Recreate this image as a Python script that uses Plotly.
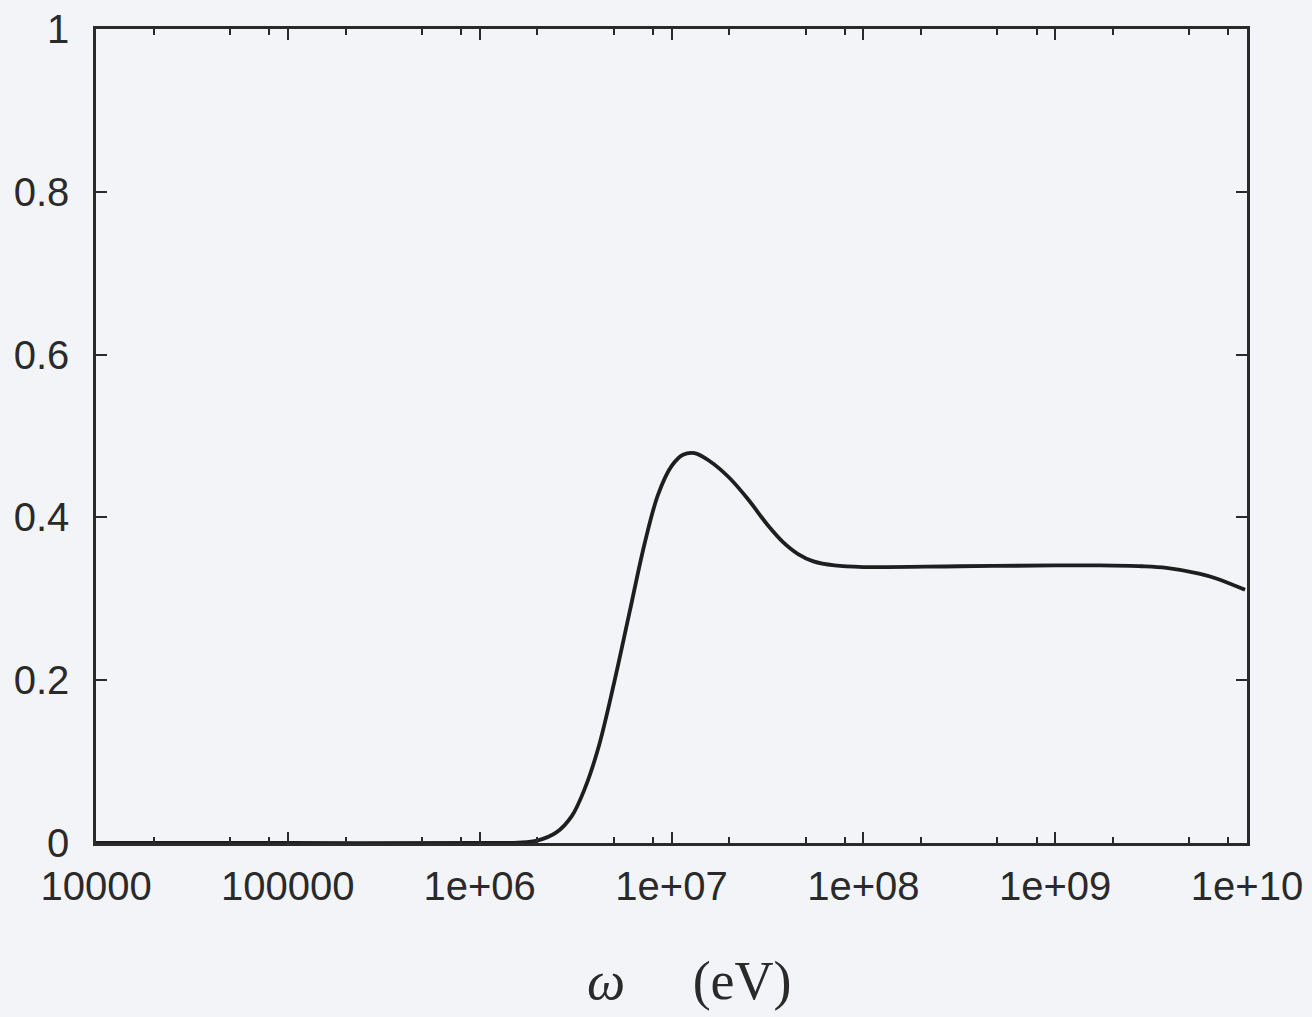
import plotly.graph_objects as go

# Data (x on log scale, in eV)
log_omega = [4.0, 5.0, 6.0, 6.2, 6.30, 6.40, 6.48, 6.55, 6.62, 6.70, 6.78, 6.86, 6.93,
             7.00, 7.06, 7.12, 7.20, 7.30, 7.40, 7.50, 7.58, 7.66, 7.74, 7.85, 8.0,
             8.5, 9.0, 9.23, 9.45, 9.58, 9.75, 9.84, 9.99]
sigma = [0.0, 0.0, 0.0, 0.0005, 0.003, 0.013, 0.033, 0.068, 0.118, 0.196, 0.282, 0.368, 0.428,
         0.463, 0.477, 0.479, 0.469, 0.449, 0.422, 0.391, 0.370, 0.355, 0.346, 0.341, 0.339,
         0.340, 0.341, 0.341, 0.340, 0.338, 0.331, 0.325, 0.311]
omega = [10 ** v for v in log_omega]

x_tickvals = [1e4, 1e5, 1e6, 1e7, 1e8, 1e9, 1e10]
x_ticktext = ["10000", "100000", "1e+06", "1e+07", "1e+08", "1e+09", "1e+10"]
x_minor = [m * 10**k for k in range(4, 10) for m in (2, 5, 8)]
y_tickvals = [0, 0.2, 0.4, 0.6, 0.8, 1.0]
y_ticktext = ["0", "0.2", "0.4", "0.6", "0.8", "1"]
x_title = "<i>ω</i>\u2003 (eV)"

bg = "#f3f4f8"
ink = "#2a2a2a"

fig = go.Figure()
fig.add_trace(go.Scatter(x=omega, y=sigma, mode="lines",
                         line=dict(color="#1e1e1e", width=3.8, shape="spline", smoothing=1.0),
                         showlegend=False, hoverinfo="skip"))

fig.update_layout(
    width=1312, height=1017,
    margin=dict(l=96, r=65, t=29, b=174),
    paper_bgcolor=bg, plot_bgcolor=bg,
    font=dict(family="Liberation Sans, Arial, sans-serif", size=40, color=ink),
    showlegend=False,
)
fig.add_annotation(
    text=x_title, xref="paper", yref="paper", x=0.516, y=-0.17,
    xanchor="center", yanchor="middle", showarrow=False,
    font=dict(family="Liberation Serif, DejaVu Serif, serif", size=54, color=ink),
)
fig.update_xaxes(
    type="log", range=[4, 10], automargin=False,
    tickvals=x_tickvals, ticktext=x_ticktext,
    ticks="inside", ticklen=11, tickwidth=2, tickcolor=ink,
    minor=dict(tickvals=x_minor, ticks="inside", ticklen=6, tickwidth=2, tickcolor=ink, showgrid=False),
    showline=True, linecolor=ink, linewidth=2.5, mirror="allticks",
    showgrid=False, zeroline=False,
    ticklabelstandoff=6,
    tickfont=dict(size=40, color=ink),
)
fig.update_yaxes(
    range=[0, 1], automargin=False,
    tickvals=y_tickvals, ticktext=y_ticktext,
    ticks="inside", ticklen=11, tickwidth=2, tickcolor=ink,
    showline=True, linecolor=ink, linewidth=2.5, mirror="allticks",
    showgrid=False, zeroline=False,
    ticklabelstandoff=16,
    tickfont=dict(size=40, color=ink),
)

fig.write_html(
    "out.html",
    config={"displayModeBar": False},
    post_script="document.body.style.margin='0';document.body.style.background='#f3f4f8';",
)
